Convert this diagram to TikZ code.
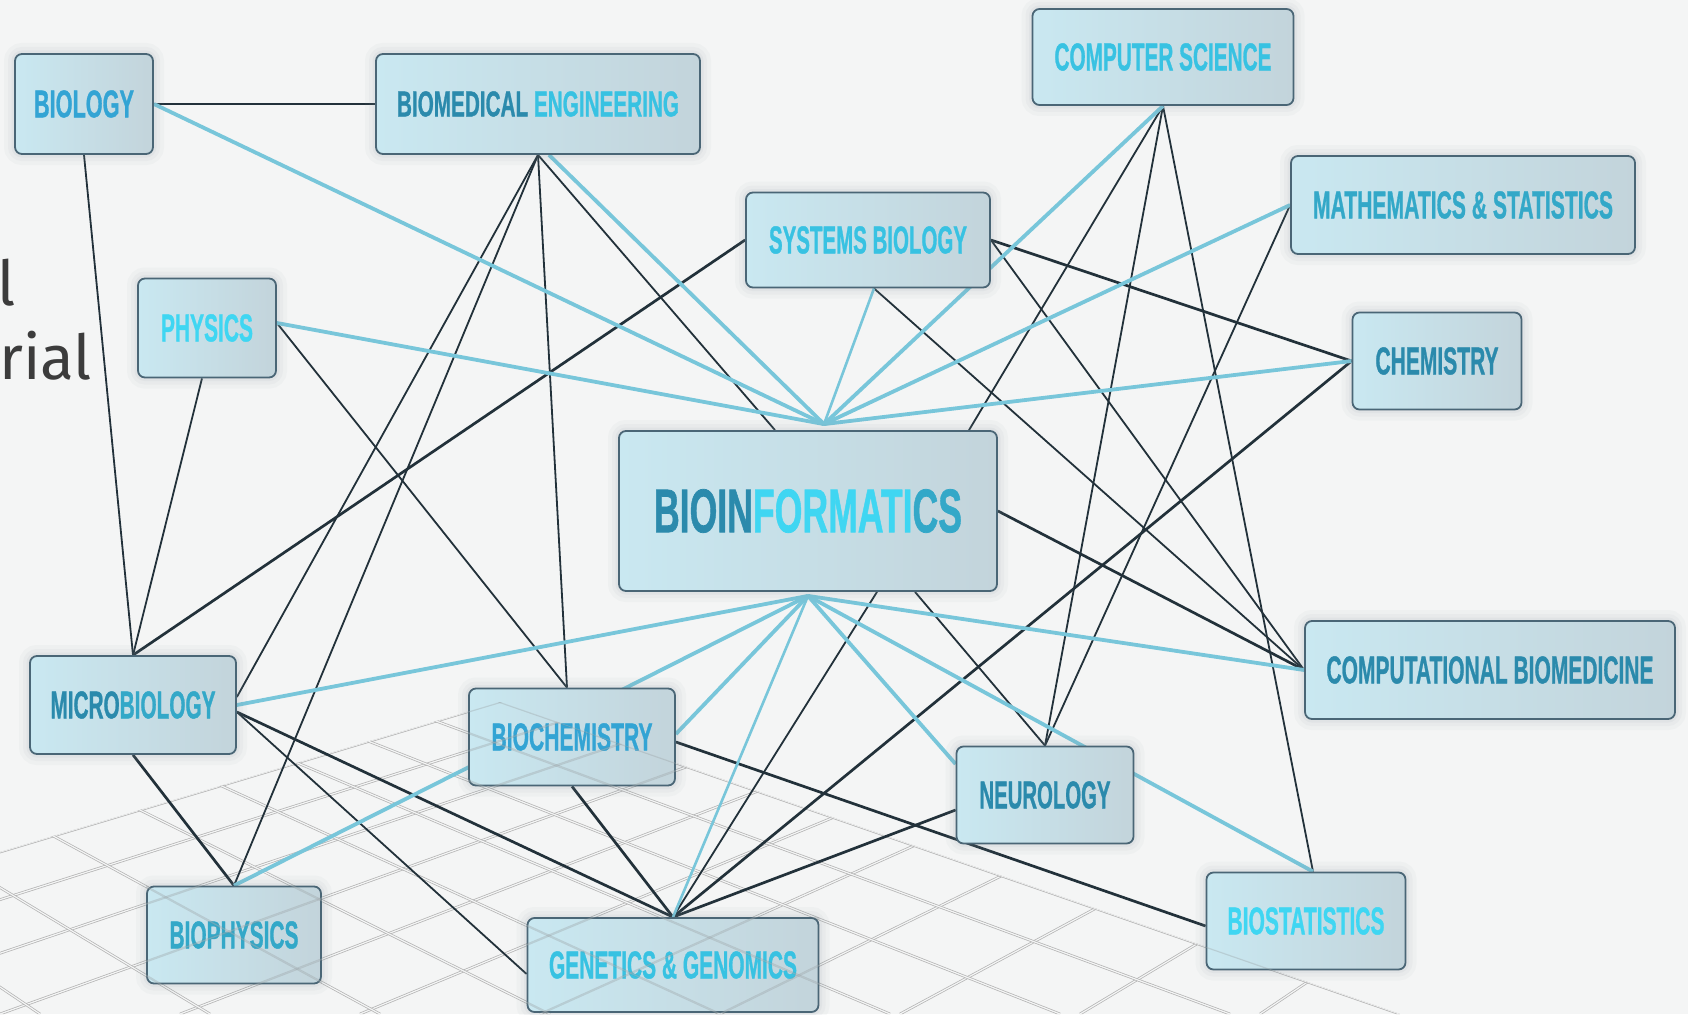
\documentclass[tikz,border=0pt]{standalone}
\usepackage{fontspec}
\newfontfamily\lblfont{Liberation Sans}[BoldFeatures={FakeBold=1.2}]
\newfontfamily\slidefont{Fira Sans}

\definecolor{bgc}{HTML}{F4F5F5}
\definecolor{edgeDark}{HTML}{22313A}
\definecolor{edgeLight}{HTML}{78C6DA}
\definecolor{boxLine}{HTML}{4A6676}
\definecolor{boxA}{HTML}{C9E8F1}
\definecolor{boxB}{HTML}{C3D4DB}
\definecolor{gridc}{HTML}{B4B4B4}
\definecolor{haloc}{HTML}{8A9AA2}
\definecolor{txtTeal}{HTML}{2B8AAC}
\definecolor{txtMid}{HTML}{33A8C8}
\definecolor{txtCyan}{HTML}{38C2E2}
\definecolor{txtBright}{HTML}{3FD6F2}
\definecolor{txtBlue}{HTML}{33A4D4}
\definecolor{slideText}{HTML}{3C3C3C}

\pgfdeclarelayer{backdrop}
\pgfdeclarelayer{links}
\pgfdeclarelayer{overlay}
\pgfsetlayers{backdrop,links,main,overlay}

% label text squeezed to a given width and cap height
\newcommand\lbl[4]{\resizebox{#1pt}{#2pt}{\color{#3}\lblfont\bfseries #4}}

\tikzset{
  field/.style={draw=boxLine, line width=1.8pt, rounded corners=7pt, inner sep=0pt,
    left color=boxA, right color=boxB,
    preaction={draw=haloc, draw opacity=0.05, line width=22pt},
    preaction={draw=haloc, draw opacity=0.06, line width=14pt},
    preaction={draw=haloc, draw opacity=0.08, line width=7pt}},
  link/.style={draw=edgeDark, line width=1.8pt},
  linkB/.style={draw=edgeDark, line width=2.7pt},
  flow/.style={draw=edgeLight, line width=3.8pt},
  flowT/.style={draw=edgeLight, line width=2.6pt},
  floorline/.style={draw=gridc, line width=0.75pt, double=bgc, double distance=1.2pt},
  floorover/.style={draw=gray, line width=0.5pt, double=boxB, double distance=1.2pt, opacity=0.25},
}

\begin{document}
\begin{tikzpicture}[x=1pt, y=-1pt]
\useasboundingbox (0,0) rectangle (1688,1014);
\begin{pgfonlayer}{backdrop}
  \fill[bgc] (0,0) rectangle (1688,1014);
  % perspective floor: two families of lines, each through its vanishing point
  \begin{scope}
    \clip (500,702) -- (0,852) -- (0,1014) -- (1400,1014) -- cycle;
    \foreach \k in {0,...,11}{\draw[floorline] (2700,42) -- ({-540+180*\k},1014);}
    \foreach \k in {0,...,8}{\draw[floorline] (-1404,42) -- ({1400-170*\k},1014);}
  \end{scope}
\end{pgfonlayer}

% cut-off slide text
\node[anchor=base east, inner sep=0pt, text=slideText, font=\slidefont\fontsize{62}{62}\selectfont] (fragA) at (16,305) {l};
\node[anchor=base east, inner sep=0pt, text=slideText, font=\slidefont\fontsize{62}{62}\selectfont] (fragB) at (92,379) {rial};

% fields
\node[field, minimum width=138pt, minimum height=100pt] (biology) at (84,104) {\lbl{100}{27}{txtBlue}{BIOLOGY}};
\node[field, minimum width=324pt, minimum height=100pt] (bme) at (538,104) {\lbl{282}{25}{txtTeal}{BIOMEDICAL \textcolor{txtCyan}{ENGINEERING}}};
\node[field, minimum width=261pt, minimum height=96pt] (cs) at (1163,57) {\lbl{217}{27}{txtCyan}{COMPUTER SCIENCE}};
\node[field, minimum width=244pt, minimum height=95pt] (sb) at (868,240) {\lbl{198}{27}{txtCyan}{SYSTEMS BIOLOGY}};
\node[field, minimum width=344pt, minimum height=98pt] (math) at (1463,205) {\lbl{300}{27}{txtMid}{MATHEMATICS \& STATISTICS}};
\node[field, minimum width=138pt, minimum height=99pt] (physics) at (207,328) {\lbl{92}{27}{txtBright}{PHYSICS}};
\node[field, minimum width=169pt, minimum height=97pt] (chem) at (1437,361) {\lbl{123}{27}{txtTeal}{CHEMISTRY}};
\node[field, minimum width=378pt, minimum height=160pt] (bioinf) at (808,511) {\lbl{308}{43}{txtTeal}{BIOIN\textcolor{txtBright}{FORMATI}\textcolor{txtMid}{CS}}};
\node[field, minimum width=370pt, minimum height=98pt] (cb) at (1490,670) {\lbl{327}{27}{txtTeal}{COMPUTATIONAL BIOMEDICINE}};
\node[field, minimum width=206pt, minimum height=98pt] (micro) at (133,705) {\lbl{165}{27}{txtTeal}{MICRO\textcolor{txtMid}{BIOLOGY}}};
\node[field, minimum width=206pt, minimum height=97pt] (biochem) at (572,737) {\lbl{161}{27}{txtBlue}{BIOCHEMISTRY}};
\node[field, minimum width=177pt, minimum height=97pt] (neuro) at (1045,795) {\lbl{131}{27}{txtTeal}{NEUROLOGY}};
\node[field, minimum width=174pt, minimum height=97pt] (biophys) at (234,935) {\lbl{129}{27}{txtMid}{BIOPHYSICS}};
\node[field, minimum width=291pt, minimum height=94pt] (genetics) at (673,965) {\lbl{248}{27}{txtCyan}{GENETICS \& GENOMICS}};
\node[field, minimum width=199pt, minimum height=97pt] (biostat) at (1306,921) {\lbl{157}{27}{txtBright}{BIOSTATISTICS}};

% meeting points of the light links on Bioinformatics
\coordinate (hubTop) at ([xshift=16pt,yshift=6pt]bioinf.north);
\coordinate (hubBot) at ([yshift=-4pt]bioinf.south);

\begin{pgfonlayer}{links}
  % dark links
  \draw[linkB] (biology.east) -- (bme.west);
  \draw[link] (biology.south) -- (micro.north);
  \draw[link] ([xshift=-5pt]physics.south) -- (micro.north);
  \draw[link] ([yshift=5pt]physics.east) -- ([xshift=-5pt]biochem.north);
  \draw[link] (bme.south) -- ([yshift=8pt]micro.east);
  \draw[link] (bme.south) -- (biophys.north);
  \draw[link] (bme.south) -- ([xshift=-5pt]biochem.north);
  \draw[link] (bme.south) -- ([xshift=-33pt]bioinf.north);
  \draw[linkB] (sb.west) -- (micro.north);
  \draw[linkB] (sb.east) -- (chem.west);
  \draw[link] (sb.east) -- (cb.west);
  \draw[link] ([xshift=6pt]sb.south) -- (cb.west);
  \draw[link] (cs.south) -- ([xshift=161pt]bioinf.north);
  \draw[link] (cs.south) -- (neuro.north);
  \draw[link] (cs.south) -- ([xshift=7pt]biostat.north);
  \draw[link] (math.west) -- (neuro.north);
  \draw[linkB] (chem.west) -- (genetics.north);
  \draw[linkB] (bioinf.east) -- (cb.west);
  \draw[link] ([xshift=69pt]bioinf.south) -- (genetics.north);
  \draw[link] ([xshift=107pt]bioinf.south) -- (neuro.north);
  \draw[linkB] (micro.south) -- (biophys.north);
  \draw[linkB] ([yshift=-7pt]micro.east) -- (genetics.north);
  \draw[link] ([yshift=-7pt]micro.east) -- ([yshift=-9pt]genetics.west);
  \draw[linkB] (biochem.south) -- (genetics.north);
  \draw[linkB] ([yshift=-5pt]biochem.east) -- ([yshift=-5pt]biostat.west);
  \draw[linkB] ([yshift=-15pt]neuro.west) -- (genetics.north);
  % light links
  \draw[flow] (biology.east) -- (hubTop);
  \draw[flow] ([yshift=5pt]physics.east) -- (hubTop);
  \draw[flow] ([xshift=11pt]bme.south) -- (hubTop);
  \draw[flowT] ([xshift=6pt]sb.south) -- (hubTop);
  \draw[flow] (cs.south) -- (hubTop);
  \draw[flow] (math.west) -- (hubTop);
  \draw[flow] (chem.west) -- (hubTop);
  \draw[flow] (hubBot) -- (cb.west);
  \draw[flow] (hubBot) -- ([yshift=31pt]neuro.west);
  \draw[flow] (hubBot) -- ([xshift=7pt]biostat.north);
  \draw[flowT] (hubBot) -- (genetics.north);
  \draw[flow] (hubBot) -- ([yshift=3pt]biochem.east);
  \draw[flow] (hubBot) -- (biophys.north);
  \draw[flow] (hubBot) -- (micro.east);
\end{pgfonlayer}

% floor lines showing faintly across the lower boxes
\begin{pgfonlayer}{overlay}
  \begin{scope}
    \clip (500,702) -- (0,852) -- (0,1014) -- (1400,1014) -- cycle;
    \clip (biochem.south west) rectangle (biochem.north east)
          (biophys.south west) rectangle (biophys.north east)
          (genetics.south west) rectangle (genetics.north east)
          (biostat.south west) rectangle (biostat.north east);
    \foreach \k in {0,...,11}{\draw[floorover] (2700,42) -- ({-540+180*\k},1014);}
    \foreach \k in {0,...,8}{\draw[floorover] (-1404,42) -- ({1400-170*\k},1014);}
  \end{scope}
\end{pgfonlayer}
\end{tikzpicture}
\end{document}
